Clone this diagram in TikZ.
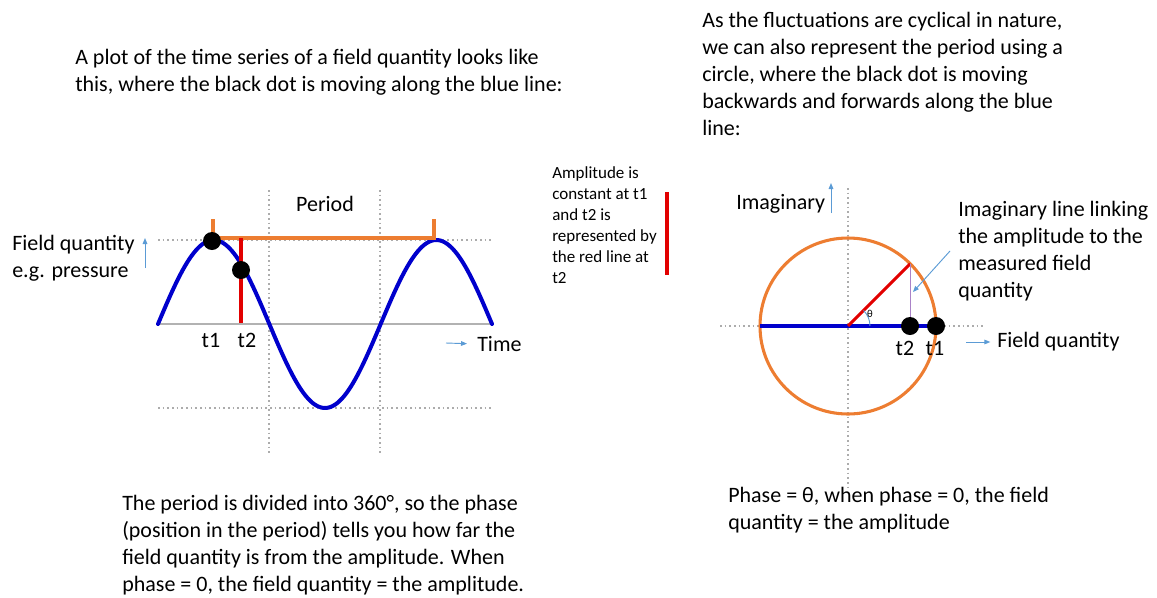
\documentclass[tikz,border=0pt]{standalone}
\usepackage{fontspec}
\setmainfont{Carlito}
\usetikzlibrary{arrows.meta,positioning}
\definecolor{waveblue}{RGB}{0,0,204}
\definecolor{periodorange}{RGB}{237,125,49}
\definecolor{ampred}{RGB}{226,0,0}
\definecolor{hintblue}{RGB}{91,155,213}
\definecolor{linkpurple}{RGB}{170,130,200}
\begin{document}
\begin{tikzpicture}[x=0.75pt, y=-0.75pt,
    bodytxt/.style={font=\fontsize{16.5}{20.25}\selectfont, align=left, anchor=north west, inner sep=0pt},
    smalltxt/.style={font=\fontsize{12.75}{15.75}\selectfont, align=left, anchor=north west, inner sep=0pt},
    lbltxt/.style={font=\fontsize{16.5}{20.25}\selectfont, inner sep=0pt},
    gridline/.style={draw=gray!65, line width=1.3pt, dash pattern=on 1.3pt off 2.2pt},
    axisline/.style={draw=gray!60, line width=1.5pt},
    wave/.style={draw=waveblue, line width=3pt},
    bracket/.style={draw=periodorange, line width=2.3pt},
    ampline/.style={draw=ampred, line width=2.3pt},
    hintarrow/.style={draw=hintblue, line width=0.7pt, -{Triangle[length=4.5pt,width=3.5pt]}},
    blackdot/.style={circle, fill=black, inner sep=0pt, minimum size=13.5pt}
  ]
  \useasboundingbox (0,0) rectangle (1157,597);
  \def\per{222.67}
  % texts
  \node[bodytxt] (plotintro) at (75,49) {A plot of the time series of a field quantity looks like\\this, where the black dot is moving along the blue line:};
  \node[bodytxt] (circintro) at (702,12) {As the fluctuations are cyclical in nature,\\we can also represent the period using a\\circle, where the black dot is moving\\backwards and forwards along the blue\\line:};
  \node[bodytxt] (periodnote) at (122,495) {The period is divided into 360°, so the phase\\(position in the period) tells you how far the\\field quantity is from the amplitude. When\\phase = 0, the field quantity = the amplitude.};
  \node[bodytxt] (phasenote) at (728,487) {Phase = θ, when phase = 0, the field\\quantity = the amplitude};
  \node[bodytxt] (fieldlbl) at (12,235) {Field quantity\\e.g. pressure};
  \node[smalltxt] (ampnote) at (552,166) {Amplitude is\\constant at t1\\and t2 is\\represented by\\the red line at\\t2};
  \node[bodytxt] (linknote) at (958,201) {Imaginary line linking\\the amplitude to the\\measured field\\quantity};
  \node[lbltxt] (periodlbl) at (325,204) {Period};
  \node[lbltxt, anchor=west] (timelbl) at (477,344) {Time};
  \node[lbltxt, anchor=west] (imaglbl) at (736,204) {Imaginary};
  \node[lbltxt, anchor=west] (fqlbl) at (997,342) {Field quantity};

  % time series
  \foreach \x in {269,380} {
    \draw[gridline] (\x,190) -- (\x,455);
  }
  \foreach \y in {240,408} {
    \draw[gridline] (158,\y) -- (492,\y);
  }
  \draw[axisline] (158,324) -- (492,324);
  \draw[wave, line cap=round] plot[domain=158:492, samples=150] (\x, {324-84*sin((\x-158)/\per*360)});
  \draw[bracket] (213,219) -- (213,238) -- (434,238) -- (434,219);
  \coordinate (t2foot) at (241,323);
  \draw[ampline] (241,238) -- (t2foot);
  \node[blackdot] (t2dot) at (241,270) {};
  \node[blackdot] (t1dot) at (212,241) {};
  \node[lbltxt] (t1lbl) at (211,340) {t1};
  \node[lbltxt] (t2lbl) at (247,340) {t2};
  \draw[ampline] (667,192) -- (667,275);
  \draw[hintarrow] (145,268) -- (145,238);
  \draw[hintarrow, shorten >=7.5pt] (446,343) -- (timelbl.west);

  % phase circle
  \coordinate (ctr) at (848,326);
  \coordinate (radtip) at ([shift={(-45:88)}]ctr);
  \draw[gridline] (848,188) -- (848,488);
  \draw[gridline] (720,326) -- (985,326);
  \draw[bracket] (ctr) circle[radius=88];
  \draw[wave] (760,326) -- (936,326);
  \draw[ampline] (ctr) -- (radtip);
  \draw[draw=linkpurple, line width=0.8pt] (radtip) -- (radtip |- ctr);
  \draw[draw=hintblue, line width=0.7pt] ([xshift=16.5pt]ctr) arc[start angle=0, end angle=-45, radius=22];
  \node[font=\fontsize{8}{9}\selectfont, inner sep=0pt] (thetalbl) at (870,314) {θ};
  \node[blackdot] (t2pos) at (910,326) {};
  \node[blackdot] (t1pos) at (936,326) {};
  \node[lbltxt] (t2plbl) at (905,348) {t2};
  \node[lbltxt] (t1plbl) at (935,348) {t1};
  \draw[hintarrow] (950,251) -- (913,292);
  \draw[hintarrow] (831,213) -- (831,183);
  \draw[hintarrow, shorten >=5pt] (966,342) -- (fqlbl.west);
\end{tikzpicture}
\end{document}
